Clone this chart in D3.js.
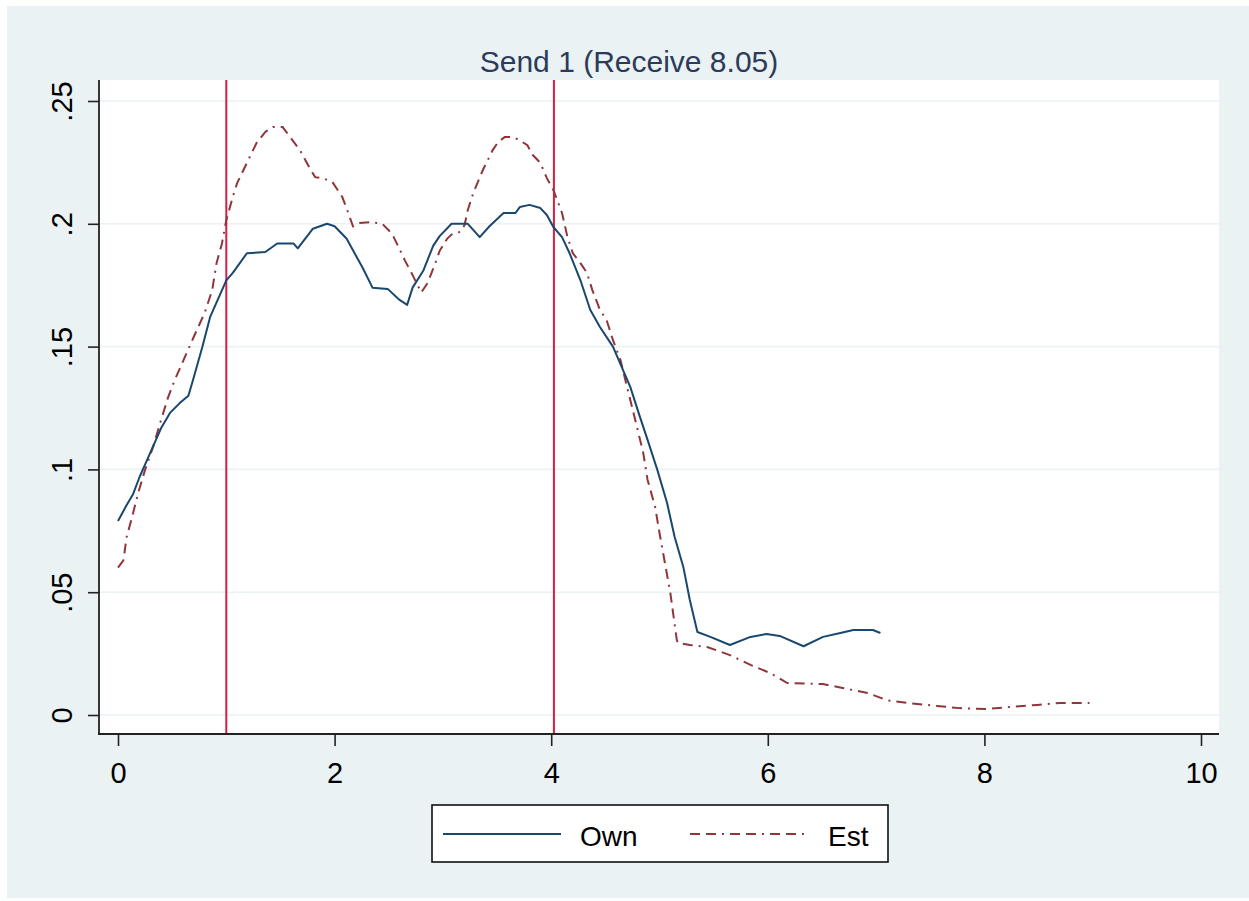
<!DOCTYPE html>
<html>
<head>
<meta charset="utf-8">
<script src="https://cdn.jsdelivr.net/npm/d3@7"></script>
<style>
  body { margin: 0; background: #fff; }
  svg { display: block; font-family: Arial, "Liberation Sans", sans-serif; }
</style>
</head>
<body>
<svg id="chart"></svg>
<script>
// ---- data ----
const titleText = 'Send 1 (Receive 8.05)';

const ownX = [0, 0.08, 0.14, 0.20, 0.27, 0.34, 0.40, 0.48, 0.57, 0.65, 0.69, 0.78, 0.85, 1.00, 1.06, 1.19,
  1.36, 1.47, 1.62, 1.66, 1.80, 1.93, 2.00, 2.11, 2.26, 2.35, 2.49, 2.60, 2.67, 2.72, 2.82, 2.91, 2.97,
  3.08, 3.23, 3.34, 3.43, 3.56, 3.67, 3.71, 3.80, 3.90, 3.96, 4.02, 4.10, 4.17, 4.27, 4.36, 4.45, 4.57,
  4.73, 4.82, 4.89, 4.98, 5.07, 5.14, 5.22, 5.28, 5.35, 5.47, 5.65, 5.84, 5.99, 6.11, 6.33, 6.51, 6.67,
  6.79, 6.97, 7.04];
const ownY = [0.079, 0.0855, 0.090, 0.097, 0.104, 0.111, 0.117, 0.123, 0.127, 0.130, 0.136, 0.150, 0.162,
  0.177, 0.180, 0.188, 0.1885, 0.192, 0.192, 0.190, 0.198, 0.200, 0.199, 0.194, 0.182, 0.174, 0.1735,
  0.169, 0.167, 0.174, 0.181, 0.191, 0.195, 0.200, 0.200, 0.1946, 0.199, 0.2044, 0.2044, 0.2068, 0.2077,
  0.2064, 0.2036, 0.1987, 0.1946, 0.188, 0.177, 0.165, 0.158, 0.150, 0.1336, 0.1213, 0.112, 0.0998,
  0.0863, 0.0725, 0.0603, 0.0468, 0.0338, 0.0318, 0.0285, 0.0318, 0.033, 0.0322, 0.028, 0.0318, 0.0334,
  0.0346, 0.0346, 0.0334];

const estX = [0, 0.05, 0.08, 0.13, 0.19, 0.25, 0.33, 0.39, 0.46, 0.52, 0.62, 0.70, 0.80, 0.87, 0.91, 0.96,
  1.00, 1.06, 1.10, 1.19, 1.28, 1.36, 1.43, 1.52, 1.59, 1.68, 1.77, 1.82, 1.89, 1.98, 2.07, 2.11, 2.17,
  2.23, 2.33, 2.44, 2.53, 2.59, 2.65, 2.71, 2.80, 2.86, 2.93, 2.97, 3.04, 3.09, 3.16, 3.20, 3.23, 3.28,
  3.37, 3.46, 3.51, 3.57, 3.65, 3.71, 3.78, 3.83, 3.90, 3.96, 4.02, 4.10, 4.15, 4.20, 4.27, 4.33, 4.38,
  4.45, 4.51, 4.57, 4.64, 4.70, 4.76, 4.85, 4.89, 4.96, 5.00, 5.05, 5.10, 5.16, 5.17, 5.28, 5.44, 5.65,
  5.84, 6.02, 6.18, 6.51, 6.69, 6.92, 7.10, 7.29, 7.56, 7.77, 8.02, 8.24, 8.49, 8.70, 8.97];
const estY = [0.060, 0.063, 0.0725, 0.0806, 0.091, 0.0998, 0.110, 0.119, 0.129, 0.136, 0.146, 0.154,
  0.1637, 0.173, 0.184, 0.192, 0.2015, 0.211, 0.2166, 0.2248, 0.233, 0.2374, 0.2394, 0.2394, 0.2353,
  0.230, 0.2227, 0.219, 0.2186, 0.217, 0.211, 0.2064, 0.199, 0.2003, 0.2007, 0.200, 0.196, 0.1906, 0.185,
  0.180, 0.172, 0.176, 0.184, 0.189, 0.194, 0.196, 0.1967, 0.1995, 0.2056, 0.2125, 0.222, 0.230, 0.2333,
  0.2353, 0.2353, 0.234, 0.232, 0.228, 0.2248, 0.2186, 0.2138, 0.2044, 0.1946, 0.188, 0.184, 0.180,
  0.173, 0.165, 0.161, 0.1527, 0.1445, 0.1336, 0.123, 0.1067, 0.0957, 0.0847, 0.0741, 0.0619, 0.0497,
  0.0305, 0.0293, 0.0285, 0.0277, 0.0244, 0.0204, 0.0171, 0.013, 0.0126, 0.011, 0.009, 0.006, 0.0049,
  0.0037, 0.0028, 0.0024, 0.0033, 0.0041, 0.0049, 0.0049];

const refLines = [1, 4.025];
const xTicks = [0, 2, 4, 6, 8, 10];
const yTicks = [0, 0.05, 0.1, 0.15, 0.2, 0.25];
const yTickLabels = ['0', '.05', '.1', '.15', '.2', '.25'];
const seriesNames = ['Own', 'Est'];

// ---- layout ----
const W = 1249, H = 901;
const plot = {left: 99, right: 1219, top: 80, bottom: 734};
const colOwn = '#1a476f', colEst = '#90353b', colRef = '#d41e45';
const estDash = '10,6,10,6,2,6';

const svg = d3.select('#chart').attr('width', W).attr('height', H);

svg.append('rect').attr('x', 7).attr('y', 6).attr('width', W - 7).attr('height', H - 9)
  .attr('fill', '#eaf2f3');
svg.append('rect').attr('x', plot.left).attr('y', plot.top)
  .attr('width', plot.right - plot.left).attr('height', plot.bottom - plot.top)
  .attr('fill', '#fff');

const x = d3.scaleLinear().domain([0, 10]).range([118, 1201]);
const y = d3.scaleLinear().domain([0, 0.25]).range([715, 101]);

// grid
svg.append('g').selectAll('line').data(yTicks).join('line')
  .attr('x1', plot.left).attr('x2', plot.right)
  .attr('y1', d => y(d)).attr('y2', d => y(d))
  .attr('stroke', '#eaf2f3').attr('stroke-width', 1.6);

// title
svg.append('text').attr('x', 629).attr('y', 72).attr('text-anchor', 'middle')
  .attr('font-size', 30).attr('fill', '#2c3b5a').text(titleText);

// reference lines
svg.append('g').selectAll('line').data(refLines).join('line')
  .attr('x1', d => x(d)).attr('x2', d => x(d))
  .attr('y1', plot.top).attr('y2', plot.bottom)
  .attr('stroke', colRef).attr('stroke-width', 2);

// series
const line = d3.line().x(d => x(d[0])).y(d => y(d[1]));
svg.append('path').datum(estX.map((v, i) => [v, estY[i]]))
  .attr('fill', 'none').attr('stroke', colEst).attr('stroke-width', 2)
  .attr('stroke-dasharray', estDash).attr('d', line);
svg.append('path').datum(ownX.map((v, i) => [v, ownY[i]]))
  .attr('fill', 'none').attr('stroke', colOwn).attr('stroke-width', 2)
  .attr('stroke-linejoin', 'round').attr('d', line);

// axes
const yAxis = svg.append('g').attr('transform', `translate(${plot.left},0)`)
  .call(d3.axisLeft(y).tickValues(yTicks).tickSize(11).tickFormat((d, i) => yTickLabels[i]));
yAxis.select('.domain').remove();
yAxis.selectAll('.tick line').attr('stroke', '#222').attr('stroke-width', 1.6);
yAxis.selectAll('.tick text')
  .attr('transform', 'rotate(-90)').attr('x', 0).attr('y', -27).attr('dy', 0)
  .attr('text-anchor', 'middle').attr('font-size', 29).attr('fill', '#000');
svg.append('line').attr('x1', plot.left).attr('x2', plot.left)
  .attr('y1', plot.top).attr('y2', plot.bottom + 1)
  .attr('stroke', '#222').attr('stroke-width', 1.8);

const xAxis = svg.append('g').attr('transform', `translate(0,${plot.bottom})`)
  .call(d3.axisBottom(x).tickValues(xTicks).tickSize(12).tickFormat(d3.format('d')));
xAxis.select('.domain').remove();
xAxis.selectAll('.tick line').attr('stroke', '#222').attr('stroke-width', 1.6);
xAxis.selectAll('.tick text').attr('y', 49).attr('dy', 0)
  .attr('font-size', 29).attr('fill', '#000');
svg.append('line').attr('x1', plot.left - 1).attr('x2', plot.right)
  .attr('y1', plot.bottom).attr('y2', plot.bottom)
  .attr('stroke', '#222').attr('stroke-width', 1.8);

// legend
const lg = svg.append('g');
lg.append('rect').attr('x', 432).attr('y', 805).attr('width', 456).attr('height', 57)
  .attr('fill', '#fff').attr('stroke', '#111').attr('stroke-width', 1.6);
const legendItems = [
  {name: seriesNames[0], x1: 443, x2: 561, tx: 580, color: colOwn, dash: null},
  {name: seriesNames[1], x1: 690, x2: 808, tx: 828, color: colEst, dash: estDash}
];
legendItems.forEach(it => {
  lg.append('line').attr('x1', it.x1).attr('x2', it.x2).attr('y1', 834).attr('y2', 834)
    .attr('stroke', it.color).attr('stroke-width', 2).attr('stroke-dasharray', it.dash);
  lg.append('text').attr('x', it.tx).attr('y', 846).attr('font-size', 28).attr('fill', '#000')
    .text(it.name);
});
</script>
</body>
</html>
